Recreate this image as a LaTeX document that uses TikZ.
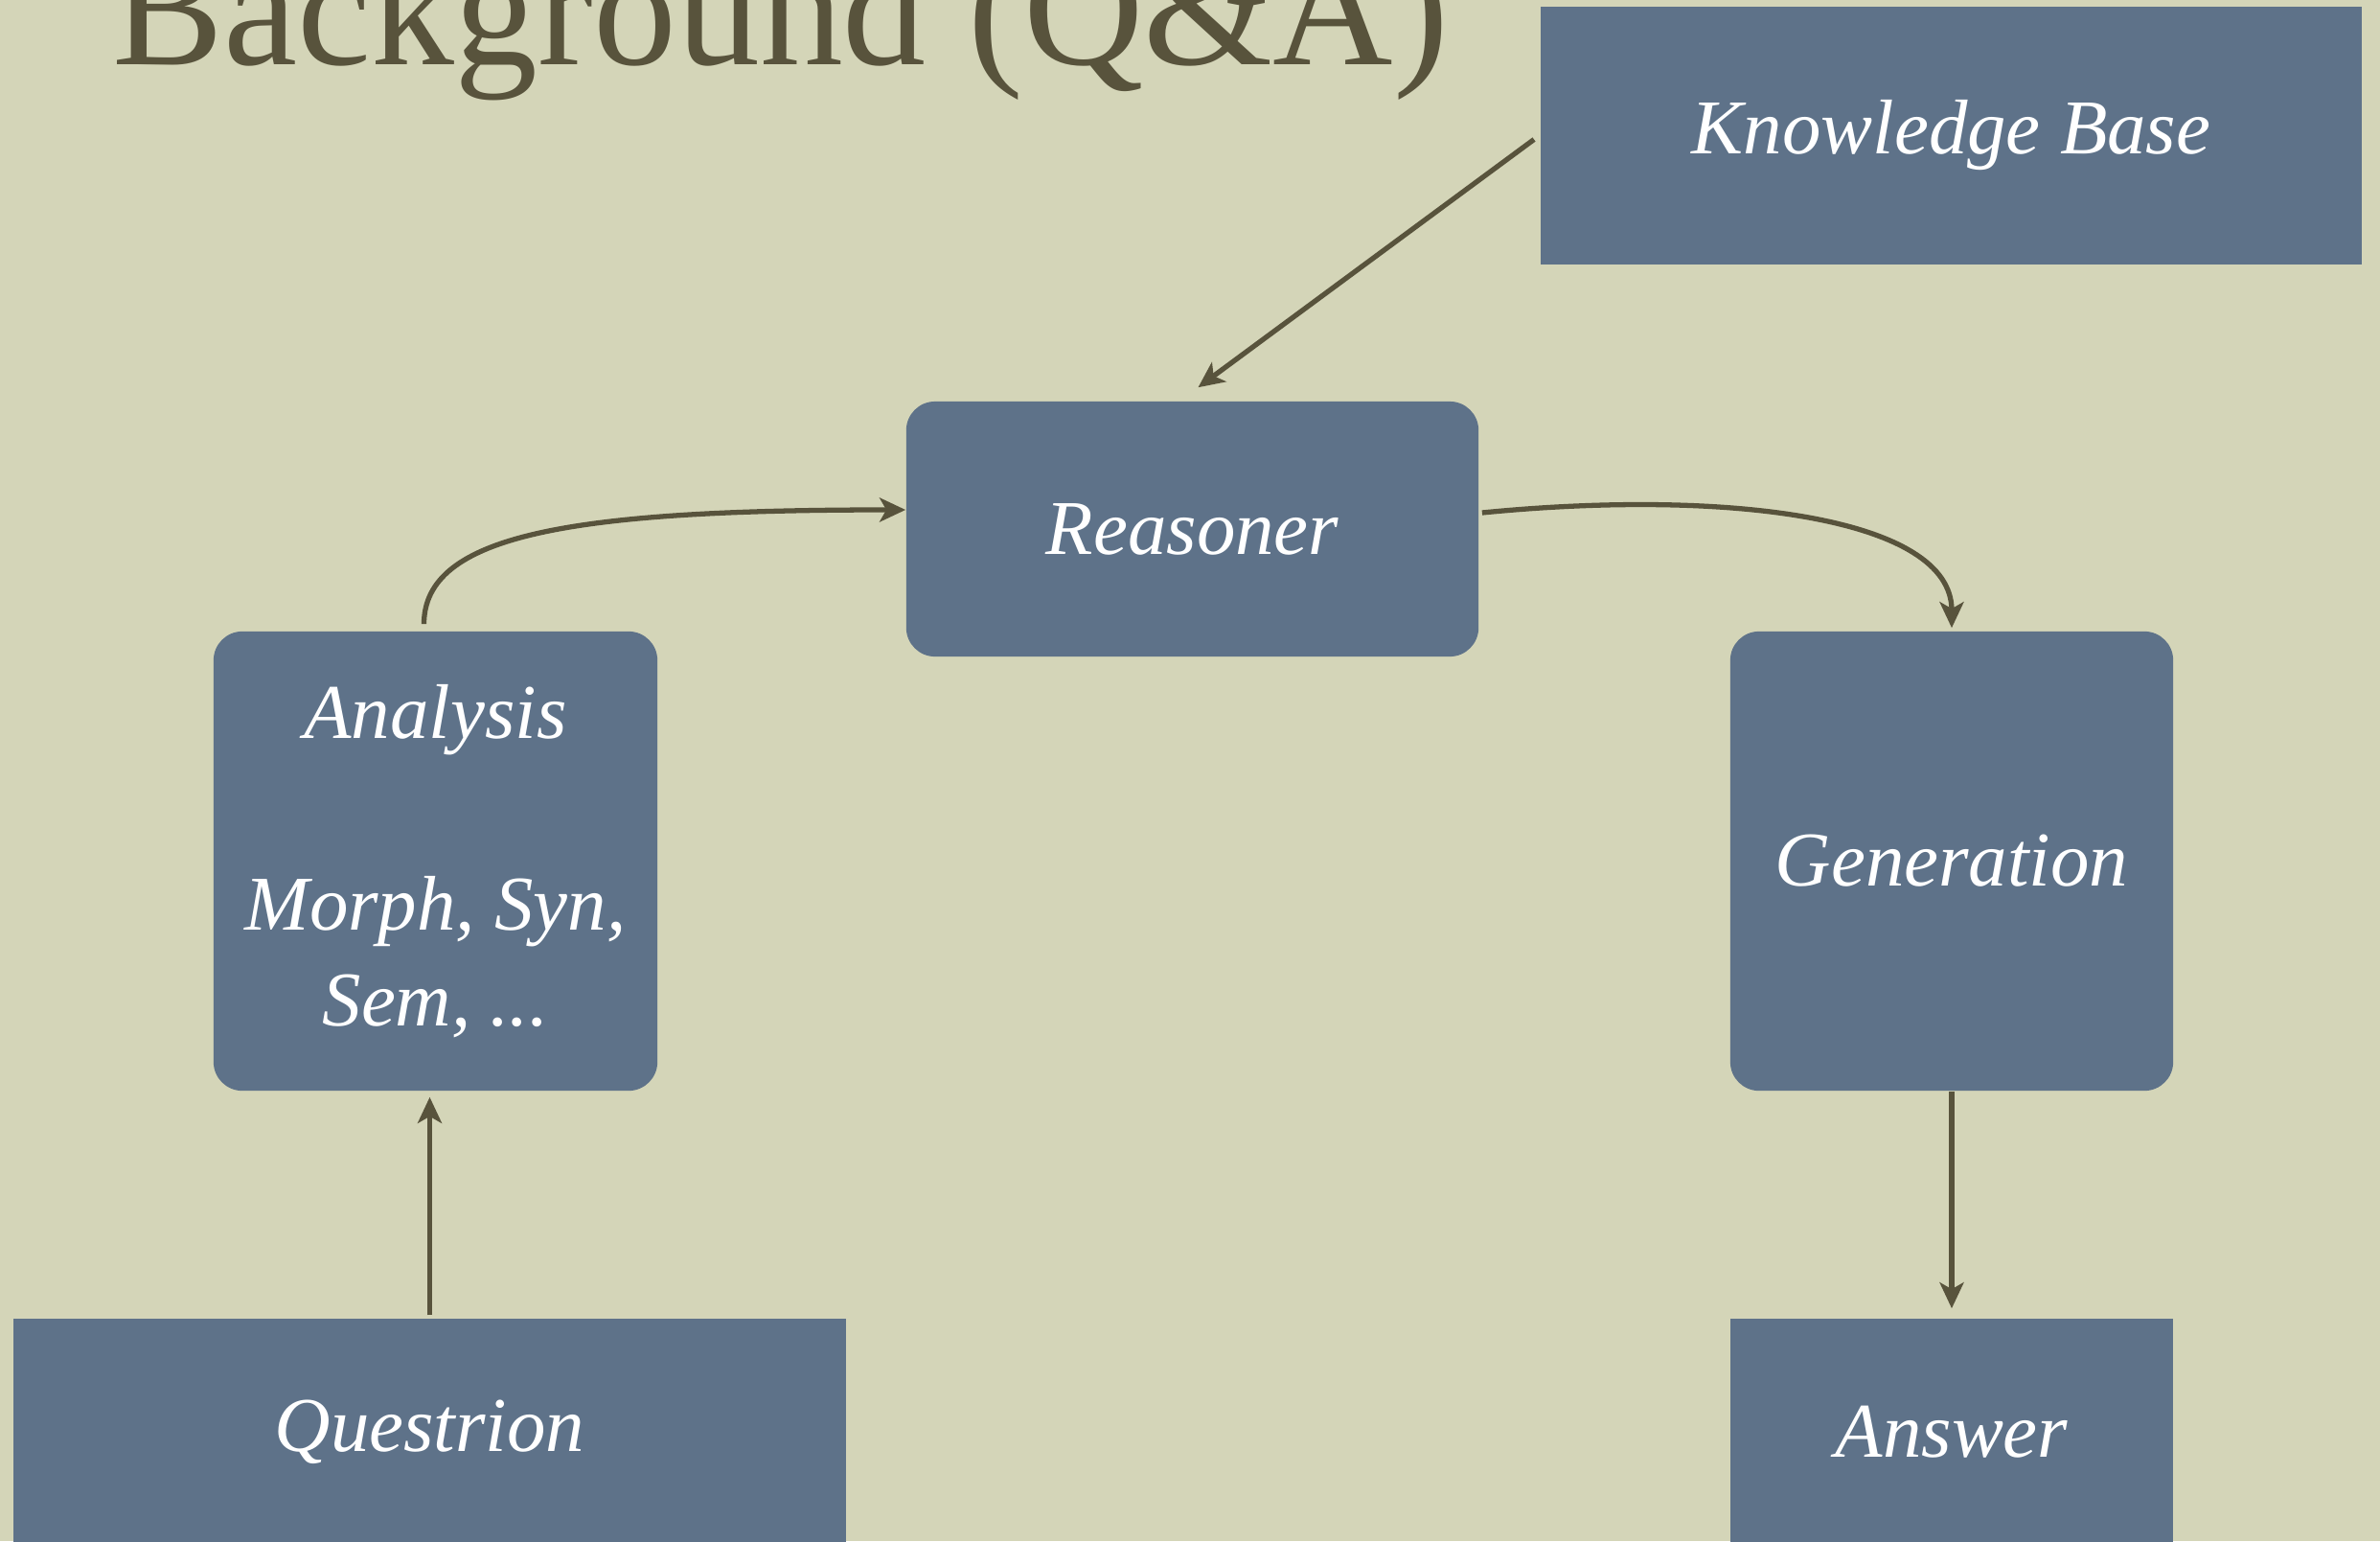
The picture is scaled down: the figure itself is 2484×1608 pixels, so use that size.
\documentclass[tikz,border=0pt]{standalone}
\usepackage{fontspec}
\setmainfont{Liberation Serif}
\usetikzlibrary{arrows.meta,calc}
\definecolor{bgcol}{RGB}{212,213,184}
\definecolor{boxcol}{RGB}{94,114,137}
\definecolor{inkcol}{RGB}{88,83,60}
\tikzset{
  boxbase/.style={fill=boxcol, draw=none, text=white, inner sep=0pt, align=center,
    font=\fontsize{23}{28.5}\selectfont\itshape},
  sqbox/.style={boxbase},
  rdbox/.style={boxbase, rounded corners=0.3cm},
  arr/.style={draw=inkcol, line width=1.5pt, -{Stealth[length=0.27cm,width=0.25cm,inset=0.07cm]}},
}
\begin{document}
\begin{tikzpicture}[x=0.01cm,y=-0.01cm]
\useasboundingbox (0,0) rectangle (2484,1608);
\clip (0,0) rectangle (2484,1608);
\fill[bgcol] (0,0) rectangle (2484,1608);

\node[anchor=base west, inner sep=0pt, text=inkcol, font=\fontsize{49.4}{55}\selectfont] (title) at (117,67) {Background (Q\&A)};

\node[sqbox, minimum width=8.57cm, minimum height=2.69cm] (kb) at (2036.5,141.5) {\raisebox{-0.08cm}{Knowledge Base}};
\node[rdbox, minimum width=5.97cm, minimum height=2.66cm] (reasoner) at (1244.5,552) {Reasoner};
\node[rdbox, minimum width=4.63cm, minimum height=4.79cm] (analysis) at (454.5,898.5) {Analysis\\\mbox{}\\Morph, Syn,\\Sem, ...};
\node[rdbox, minimum width=4.62cm, minimum height=4.79cm] (generation) at (2037,898.5) {Generation};
\node[sqbox, minimum width=8.69cm, minimum height=2.36cm] (question) at (448.5,1494) {\raisebox{-0.06cm}{Questrion}};
\node[sqbox, minimum width=4.62cm, minimum height=2.36cm] (answer) at (2037,1494) {Answer};

\draw[arr] ([xshift=-0.06cm,yshift=-0.04cm]kb.west) -- ([xshift=0.06cm,yshift=0.14cm]reasoner.north);

\coordinate (s1) at ([xshift=-0.12cm,yshift=0.07cm]analysis.north);
\coordinate (e1) at ([yshift=0.2cm]reasoner.west);
\draw[arr] (s1) .. controls ($(s1)+(0,-93)$) and ($(e1)+(-350,0)$) .. (e1);

\coordinate (s2) at ([xshift=0.03cm,yshift=0.17cm]reasoner.east);
\coordinate (e2) at ([yshift=0.03cm]generation.north);
\draw[arr] (s2) .. controls ($(s2)+(254,-25)$) and ($(e2)+(0,-116)$) .. (e2);

\draw[arr] (generation.south) -- ([yshift=0.1cm]answer.north);
\draw[arr] ([yshift=0.03cm]question.north) -- ([yshift=-0.06cm]question.north |- analysis.south);
\end{tikzpicture}
\end{document}
